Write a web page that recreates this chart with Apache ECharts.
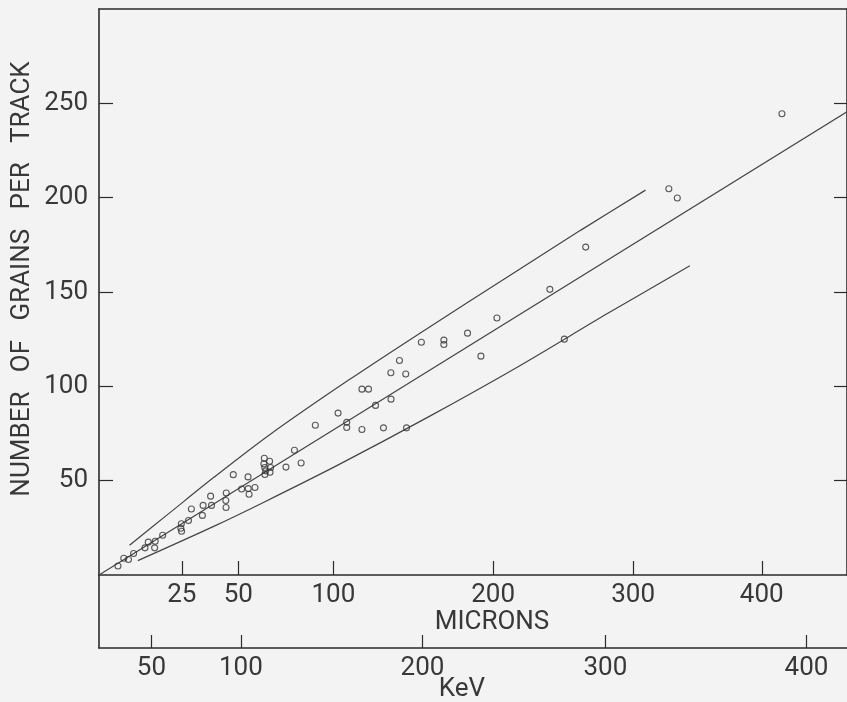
<!DOCTYPE html>
<html lang="en">
<head>
<meta charset="UTF-8">
<title>Grains per track</title>
<script src="https://cdn.jsdelivr.net/npm/echarts@6/dist/echarts.min.js"></script>
<style>
  html, body { margin: 0; padding: 0; background: #f3f3f3; }
  #chart { width: 847px; height: 702px; }
</style>
</head>
<body>
<div id="chart"></div>
<script>
// range in microns and grain count of each measured track
var rangeMicrons = [3.5, 5.0, 6.3, 7.8, 11.4, 12.5, 14.7, 14.9, 17.6, 24.8,
  24.6, 24.9, 27.7, 28.9, 33.6, 33.9, 37.2, 37.6, 44.3, 44.1,
  44.2, 47.6, 51.6, 54.7, 54.8, 55.2, 58.1, 62.8, 62.6, 65.5,
  63.0, 66.0, 63.5, 65.7, 63.1, 74.0, 78.5, 82.1, 89.9, 102.7,
  107.7, 107.7, 116.6, 116.6, 120.5, 124.7, 129.5, 134.1, 134.0, 143.2,
  139.3, 143.7, 153.0, 167.4, 167.4, 182.9, 191.8, 202.6, 239.3, 249.6,
  265.0, 327.0, 333.5, 416.3];
var grains = [4.8, 8.9, 8.2, 11.4, 14.4, 17.4, 14.4, 17.9, 21.1, 27.2,
  24.8, 23.2, 28.9, 35.0, 31.6, 36.9, 41.8, 36.9, 43.5, 39.5,
  35.8, 53.2, 45.6, 52.0, 45.8, 42.8, 46.4, 61.9, 58.9, 60.3,
  57.0, 57.0, 55.2, 54.5, 53.3, 57.2, 66.1, 59.4, 79.4, 85.8,
  80.9, 78.2, 77.1, 98.5, 98.5, 89.9, 78.0, 93.2, 107.2, 106.5,
  113.7, 78.0, 123.4, 124.5, 122.2, 128.2, 116.0, 136.2, 151.4, 125.0,
  173.8, 204.7, 199.8, 244.5];

// mean line and the two limit curves
var centerRange = [0, 470];
var centerGrains = [0, 245.5];
var upperRange = [6.6, 20.1, 38.8, 65.2, 108.8, 157.5, 210.3, 261.5, 309.3];
var upperGrains = [15.8, 32.8, 51.9, 74.1, 103.3, 131.1, 158.2, 182.8, 204.0];
var lowerRange = [9.1, 38.8, 62.6, 103.1, 157.5, 217.1, 281.2, 343.2];
var lowerGrains = [7.6, 25.9, 38.6, 58.5, 83.8, 110.4, 138.7, 163.9];

// axis ticks
var micronTicks = [25, 50, 100, 200, 300, 400];
var keVTicks = [50, 100, 200, 300, 400];
var keVRangeMicrons = [13.6, 51.2, 153.7, 279.4, 436.4]; // range (microns) for each keV tick
var grainTicks = [50, 100, 150, 200, 250];
var micronMax = 470;

// the range scale of the figure is a 3/4 power scale
var POW = 0.75;
function toAxis(r) { return Math.pow(r, POW); }
function pairs(xs, ys) {
    return xs.map(function (x, i) { return [toAxis(x), ys[i]]; });
}
function nearestIndex(list, v) {
    var best = 0;
    for (var i = 1; i < list.length; i++) {
        if (Math.abs(list[i] - v) < Math.abs(list[best] - v)) best = i;
    }
    return best;
}

var micronU = micronTicks.map(toAxis);
var keVU = keVRangeMicrons.map(toAxis);
var uMax = toAxis(micronMax);

var INK = '#2b2b2b';
var TEXT = '#383838';
var FONT = 'Roboto, "DejaVu Sans Condensed", sans-serif';
var labelStyle = { color: TEXT, fontSize: 26, fontFamily: FONT, fontWeight: 'normal' };
var frameLine = { show: true, onZero: false, lineStyle: { color: INK, width: 1.6 } };

var chart = echarts.init(document.getElementById('chart'));

var option = {
    backgroundColor: '#f3f3f3',
    animation: false,
    grid: [
        { left: 99, right: -4, top: 9, height: 566 },
        { left: 99, right: -4, top: 575, height: 73 }
    ],
    xAxis: [
        {
            gridIndex: 0, type: 'value', position: 'bottom', min: 0, max: uMax,
            axisLine: frameLine,
            axisTick: { show: true, inside: true, length: 14, customValues: micronU, lineStyle: { color: INK, width: 1.2 } },
            axisLabel: Object.assign({
                margin: 7, customValues: micronU,
                formatter: function (v) { return String(micronTicks[nearestIndex(micronU, v)]); }
            }, labelStyle),
            splitLine: { show: false }
        },
        {
            gridIndex: 0, type: 'value', position: 'top', min: 0, max: uMax,
            axisLine: frameLine,
            axisTick: { show: false }, axisLabel: { show: false }, splitLine: { show: false }
        },
        {
            gridIndex: 1, type: 'value', position: 'bottom', min: 0, max: uMax,
            axisLine: frameLine,
            axisTick: { show: true, inside: true, length: 13, customValues: keVU, lineStyle: { color: INK, width: 1.2 } },
            axisLabel: Object.assign({
                margin: 7, customValues: keVU,
                formatter: function (v) { return String(keVTicks[nearestIndex(keVU, v)]); }
            }, labelStyle),
            splitLine: { show: false }
        }
    ],
    yAxis: [
        {
            gridIndex: 0, type: 'value', position: 'left', min: 0, max: 300,
            axisLine: frameLine,
            axisTick: { show: true, inside: true, length: 14, customValues: grainTicks, lineStyle: { color: INK, width: 1.2 } },
            axisLabel: Object.assign({ margin: 11, customValues: grainTicks }, labelStyle),
            splitLine: { show: false }
        },
        {
            gridIndex: 0, type: 'value', position: 'right', min: 0, max: 300,
            axisLine: frameLine,
            axisTick: { show: true, inside: true, length: 13, customValues: grainTicks, lineStyle: { color: INK, width: 1.2 } },
            axisLabel: { show: false }, splitLine: { show: false }
        },
        {
            gridIndex: 1, type: 'value', position: 'left', min: 0, max: 1,
            axisLine: frameLine,
            axisTick: { show: false }, axisLabel: { show: false }, splitLine: { show: false }
        }
    ],
    graphic: [
        {
            type: 'text', x: 22, y: 279, rotation: Math.PI / 2,
            style: { text: 'NUMBER   OF   GRAINS   PER   TRACK', fill: TEXT, fontSize: 26, fontFamily: FONT, align: 'center', verticalAlign: 'middle' }
        },
        {
            type: 'text', x: 492, y: 622,
            style: { text: 'MICRONS', fill: TEXT, fontSize: 26, fontFamily: FONT, align: 'center', verticalAlign: 'middle' }
        },
        {
            type: 'text', x: 462, y: 689,
            style: { text: 'KeV', fill: TEXT, fontSize: 26, fontFamily: FONT, align: 'center', verticalAlign: 'middle' }
        }
    ],
    series: [
        {
            type: 'line', xAxisIndex: 0, yAxisIndex: 0,
            data: pairs(centerRange, centerGrains),
            showSymbol: false, lineStyle: { color: '#444', width: 1.2 }, z: 2
        },
        {
            type: 'line', xAxisIndex: 0, yAxisIndex: 0,
            data: pairs(upperRange, upperGrains), smooth: 0.3,
            showSymbol: false, lineStyle: { color: '#444', width: 1.2 }, z: 2
        },
        {
            type: 'line', xAxisIndex: 0, yAxisIndex: 0,
            data: pairs(lowerRange, lowerGrains), smooth: 0.3,
            showSymbol: false, lineStyle: { color: '#444', width: 1.2 }, z: 2
        },
        {
            type: 'scatter', xAxisIndex: 0, yAxisIndex: 0,
            data: pairs(rangeMicrons, grains),
            symbol: 'circle', symbolSize: 6,
            itemStyle: { color: 'rgba(0,0,0,0)', borderColor: '#333', borderWidth: 1.1 },
            z: 3
        }
    ]
};

chart.setOption(option);
</script>
</body>
</html>
